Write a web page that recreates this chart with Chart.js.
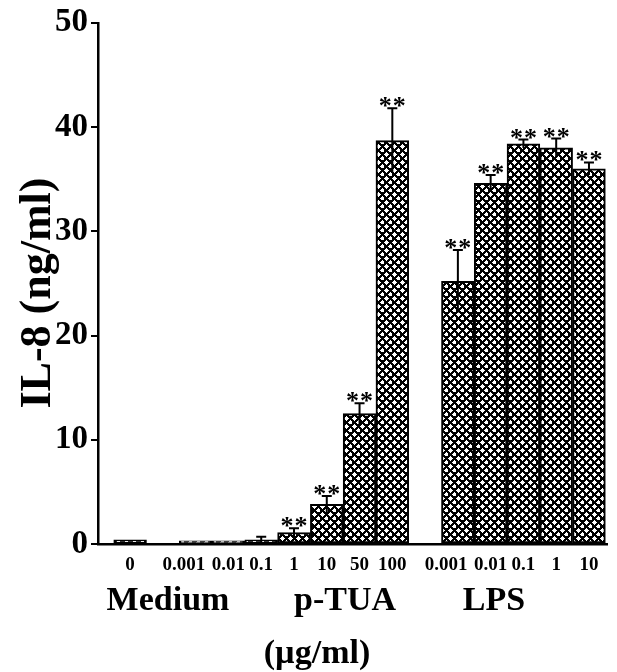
<!DOCTYPE html>
<html>
<head>
<meta charset="utf-8">
<script src="https://cdn.jsdelivr.net/npm/chart.js@4.4.1/dist/chart.umd.min.js"></script>
<style>
  html, body { margin: 0; padding: 0; background: #fff; }
  canvas { display: block; }
</style>
</head>
<body>
<canvas id="c" width="617" height="672"></canvas>
<script>
// ---- data ----
const categories = ['0', '', '0.001', '0.01', '0.1', '1', '10', '50', '100', '', '0.001', '0.01', '0.1', '1', '10'];
const il8Values  = [0.4, null, 0.3, 0.3, 0.4, 1.1, 3.8, 12.5, 38.7, null, 25.2, 34.6, 38.4, 38.0, 36.0];
const il8Errors  = [0, null, 0, 0, 0.3, 0.4, 0.8, 1.0, 3.1, null, 3.0, 0.8, 0.4, 0.9, 0.6];
const significant = [false, false, false, false, false, true, true, true, true, false, true, true, true, true, true];
const yTicks = [0, 10, 20, 30, 40, 50];
const groupLabels = ['Medium', 'p-TUA', 'LPS'];
const unitLabel = '(\u00b5g/ml)';
const yTitle = 'IL-8 (ng/ml)';

const SERIF = '"Liberation Serif", "DejaVu Serif", serif';

// ---- pattern ----
function makePattern() {
  const t = document.createElement('canvas');
  t.width = 8; t.height = 8;
  const g = t.getContext('2d');
  g.fillStyle = '#000';
  g.fillRect(0, 0, 8, 8);
  g.fillStyle = '#fff';
  function star(cx, cy) {
    g.fillRect(cx - 1, cy - 1, 3, 3);
    g.fillRect(cx - 2, cy, 5, 1);
    g.fillRect(cx, cy - 2, 1, 5);
  }
  star(2, 2); star(6, 6);
  return g.createPattern(t, 'repeat');
}
const ctx = document.getElementById('c').getContext('2d');
const pattern = makePattern();

const points = [];
il8Values.forEach((v, i) => { if (v !== null) points.push({ x: i, y: v }); });

const annotPlugin = {
  id: 'annot',
  afterDatasetsDraw(chart) {
    const c = chart.ctx;
    const ys = chart.scales.y;
    const meta = chart.getDatasetMeta(0);
    c.save();
    c.strokeStyle = '#000';
    c.fillStyle = '#000';
    c.lineWidth = 2;
    meta.data.forEach((bar, j) => {
      const idx = points[j].x;
      const v = il8Values[idx], e = il8Errors[idx];
      const x = bar.x;
      const yTop = ys.getPixelForValue(v + e);
      if (e > 0) {
        const yBot = ys.getPixelForValue(v - e);
        c.beginPath();
        c.moveTo(x, yBot); c.lineTo(x, yTop);
        c.moveTo(x - 5, yTop); c.lineTo(x + 5, yTop);
        c.stroke();
      }
      if (significant[idx]) {
        c.font = 'bold 26px ' + SERIF;
        c.textAlign = 'center';
        c.textBaseline = 'alphabetic';
        c.fillText('*', x - 7, yTop + 6);
        c.fillText('*', x + 7, yTop + 6);
      }
    });
    c.restore();
  },
  afterDraw(chart) {
    const c = chart.ctx;
    c.save();
    c.fillStyle = '#000';
    c.font = 'bold 34px ' + SERIF;
    c.textAlign = 'center';
    c.textBaseline = 'alphabetic';
    c.fillText(groupLabels[0], 168, 610);
    c.fillText(groupLabels[1], 345, 610);
    c.fillText(groupLabels[2], 494, 610);
    c.fillText(unitLabel, 317, 663);
    c.translate(50, 293);
    c.rotate(-Math.PI / 2);
    c.font = 'bold 44px ' + SERIF;
    c.fillText(yTitle, 0, 0);
    c.restore();
  }
};

new Chart(ctx, {
  type: 'bar',
  data: {
    datasets: [{
      data: points,
      backgroundColor: pattern,
      borderColor: '#000',
      borderWidth: 2,
      borderSkipped: false,
      barPercentage: 1.0,
      categoryPercentage: 1.0
    }]
  },
  options: {
    responsive: false,
    animation: false,
    devicePixelRatio: 1,
    layout: { padding: { top: 20, right: 10, left: 0, bottom: 0 } },
    plugins: { legend: { display: false }, tooltip: { enabled: false } },
    scales: {
      x: {
        type: 'linear',
        offset: false,
        min: -0.98,
        max: 14.55,
        afterFit(s) { s.height = 128; },
        afterBuildTicks(s) {
          // wide labels are nudged left so neighbouring labels do not collide
          s.ticks = categories
            .map((c, i) => ({ value: i - (c === '0.001' ? 0.36 : 0), label: c }))
            .filter(t => t.label !== '');
        },
        grid: { display: false, drawTicks: false },
        border: { display: true, color: '#000', width: 2.5 },
        ticks: {
          autoSkip: false,
          maxRotation: 0,
          padding: 10,
          color: '#000',
          font: { family: SERIF, weight: 'bold', size: 19 },
          callback: (v, i, ticks) => ticks[i].label
        }
      },
      y: {
        min: 0,
        max: 50,
        afterFit(s) { s.width = 98; },
        afterBuildTicks(s) { s.ticks = yTicks.map(v => ({ value: v })); },
        grid: { drawOnChartArea: false, drawTicks: true, tickLength: 7, color: '#000', lineWidth: 2 },
        border: { display: true, color: '#000', width: 2.5 },
        ticks: {
          padding: 3,
          color: '#000',
          font: { family: SERIF, weight: 'bold', size: 33 }
        }
      }
    }
  },
  plugins: [annotPlugin]
});
</script>
</body>
</html>
